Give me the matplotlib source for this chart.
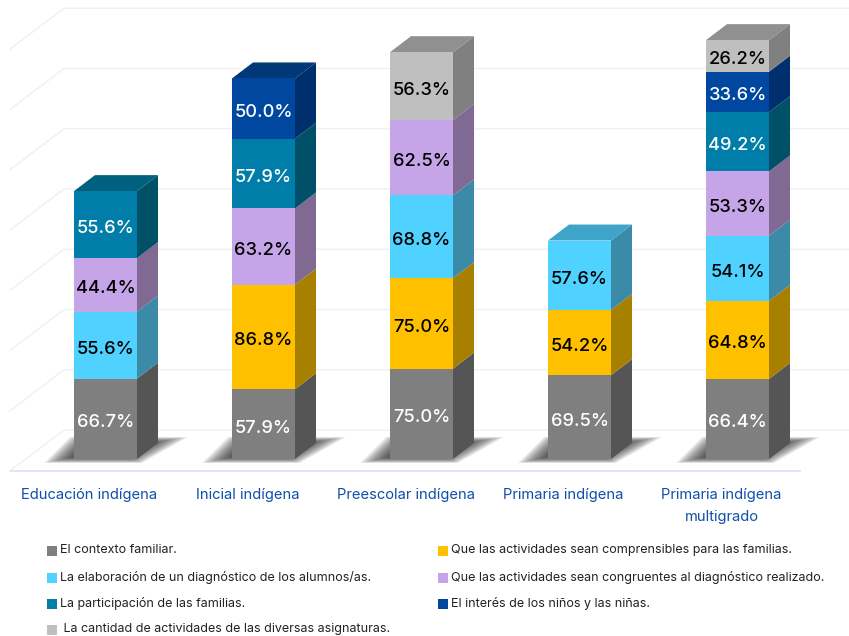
import matplotlib
matplotlib.use('Agg')
import matplotlib.pyplot as plt
from matplotlib.patches import Polygon

plt.rcParams['font.family'] = ['Inter', 'DejaVu Sans']

categories = ['Educación indígena', 'Inicial indígena', 'Preescolar indígena',
              'Primaria indígena', 'Primaria indígena\nmultigrado']
contexto = [66.7, 57.9, 75.0, 69.5, 66.4]
comprensibles = [0, 86.8, 75.0, 54.2, 64.8]
elaboracion = [55.6, 0, 68.8, 57.6, 54.1]
congruentes = [44.4, 63.2, 62.5, 0, 53.3]
participacion = [55.6, 57.9, 0, 0, 49.2]
interes = [0, 50.0, 0, 0, 33.6]
cantidad = [0, 0, 56.3, 0, 26.2]

# label, values, front, side, top, text colour
series = [
    ('El contexto familiar.', contexto, '#7f7f7f', '#555555', '#666666', 'white'),
    ('Que las actividades sean comprensibles para las familias.', comprensibles, '#ffc000', '#a88000', '#c09000', 'black'),
    ('La elaboración de un diagnóstico de los alumnos/as.', elaboracion, '#4fd2ff', '#3a8aa8', '#3fa5c8', 'black'),
    ('Que las actividades sean congruentes al diagnóstico realizado.', congruentes, '#c5a5e8', '#806a94', '#9a80b8', 'black'),
    ('La participación de las familias.', participacion, '#007da8', '#005068', '#00617f', 'white'),
    ('El interés de los niños y las niñas.', interes, '#0047a0', '#002f6e', '#003878', 'white'),
    (' La cantidad de actividades de las diversas asignaturas.', cantidad, '#bfbfbf', '#808080', '#909090', 'black'),
]

# pixel layout of the reference
W, H = 849, 636
PX_X = 158.0
PX_Y = 1.205
X0 = 105.5
Y0 = 459.0
half = 31.5 / PX_X
dx = 21 / PX_X
dy = 16 / PX_Y

fig = plt.figure(figsize=(W / 100, H / 100), dpi=100)
ax = fig.add_axes([0, 0, 1, 1])
ax.set_xlim(-X0 / PX_X, (W - X0) / PX_X)
ax.set_ylim((Y0 - H) / PX_Y, Y0 / PX_Y)
ax.axis('off')

# walls and floor
fx = (10 - X0) / PX_X
bx = (64 - X0) / PX_X
floor_front = (Y0 - 471) / PX_Y
floor_back = (Y0 - 430) / PX_Y
for g in range(0, 351, 50):
    ax.plot([fx, bx, (W - X0) / PX_X], [floor_front + g, floor_back + g, floor_back + g],
            color='#f0f0f3', lw=1, zorder=1)
ax.plot([fx, (800 - X0) / PX_X], [floor_front, floor_front], color='#e2dff2', lw=1.2, zorder=1)

# shadow outline around a bar, in pixels relative to the front bottom left corner
shadow = [(-30, -4), (68, -4), (114, 22), (-4, 22)]
cx, cy = 34, 9

for i in range(len(categories)):
    # soft shadow on the floor, stacked shrinking polygons
    left = i - half
    for k in range(18):
        s = 1.0 - k * 0.03
        pts = [(left + (cx + (px - cx) * s) / PX_X, (cy + (py - cy) * s) / PX_Y) for px, py in shadow]
        ax.add_patch(Polygon(pts, closed=True, fc='#1a1a1a', ec='none', alpha=0.075, zorder=2))
    bottom = 0
    last = None
    for label, values, front, side, top, tc in series:
        v = values[i]
        if v == 0:
            continue
        ax.add_patch(Polygon([(i + half, bottom), (i + half + dx, bottom + dy),
                              (i + half + dx, bottom + v + dy), (i + half, bottom + v)],
                             closed=True, fc=side, ec='none', zorder=3))
        ax.bar(i, v, bottom=bottom, width=2 * half, color=front, zorder=4)
        ax.text(i, bottom + v / 2 - 2 / PX_Y, f'{v:.1f}%', ha='center', va='center_baseline', color=tc,
                fontsize=13.2, fontweight='medium', zorder=5)
        bottom += v
        last = top
    ax.add_patch(Polygon([(i - half, bottom), (i - half + dx, bottom + dy),
                          (i + half + dx, bottom + dy), (i + half, bottom)],
                         closed=True, fc=last, ec='none', zorder=3))
    ax.text(i - 16 / PX_X, (Y0 - 488.5) / PX_Y, categories[i], ha='center', va='top',
            color='#0f4fa8', fontsize=10.6, linespacing=1.72, zorder=5)

# legend, two columns filled row by row
col_x = [51.5, 442.5]
row_y = [550, 577, 603, 629]
for n, item in enumerate(series):
    x = (col_x[n % 2] - X0) / PX_X
    y = (Y0 - row_y[n // 2]) / PX_Y
    ax.scatter([x], [y - 0.8], marker='s', s=55, color=item[2], linewidths=0, zorder=5)
    ax.text(x + 8.5 / PX_X, y, item[0], ha='left', va='center', color='#222222',
            fontsize=9.0, zorder=5)

fig.savefig('out.png', dpi=100)
